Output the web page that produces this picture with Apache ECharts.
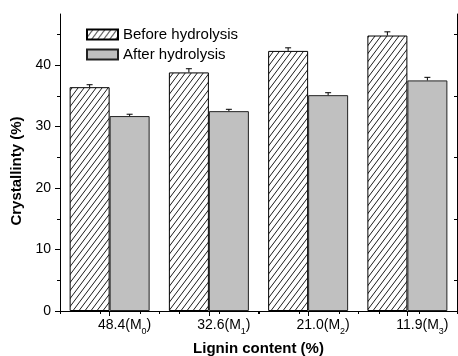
<!DOCTYPE html>
<html><head><meta charset="utf-8">
<script src="https://cdn.jsdelivr.net/npm/echarts@6/dist/echarts.min.js"></script>
<style>html,body{margin:0;padding:0;background:#fff}#c{width:458px;height:356px}</style>
</head><body><div id="c"></div>
<script>
// Crystallinity of the samples before and after hydrolysis, by lignin content
const ligninContent = ['48.4', '32.6', '21.0', '11.9'];
const sampleIndex = ['0', '1', '2', '3'];
const beforeHydrolysis = [36.4, 38.8, 42.3, 44.8];
const beforeError = [0.4, 0.6, 0.5, 0.6];
const afterHydrolysis = [31.7, 32.5, 35.1, 37.5];
const afterError = [0.3, 0.3, 0.4, 0.5];
const yMajorTicks = [0, 10, 20, 30, 40];
const yMinorTicks = [5, 15, 25, 35, 45];

const FONT = 'Liberation Sans, Arial, sans-serif';

// diagonal hatch tile for the "before" bars
function hatchTile() {
  const w = 6, h = 8;
  const cv = document.createElement('canvas');
  cv.width = w; cv.height = h;
  const g = cv.getContext('2d');
  g.fillStyle = '#fff';
  g.fillRect(0, 0, w, h);
  g.strokeStyle = '#000';
  g.lineWidth = 0.9;
  g.beginPath();
  for (const dx of [-w, 0, w]) { g.moveTo(dx, h); g.lineTo(dx + w, 0); }
  g.stroke();
  return cv;
}

function errorSeries(values, errors, shift) {
  return {
    type: 'custom',
    xAxisIndex: 0,
    yAxisIndex: 0,
    z: 5,
    silent: true,
    data: values.map((v, i) => [i, v, errors[i]]),
    renderItem: (params, api) => {
      const base = api.coord([api.value(0), api.value(1)]);
      const top = api.coord([api.value(0), api.value(1) + api.value(2)]);
      const x = base[0] + shift;
      const style = { stroke: '#000', lineWidth: 1 };
      return {
        type: 'group',
        children: [
          { type: 'line', shape: { x1: x, y1: base[1], x2: x, y2: top[1] }, style },
          { type: 'line', shape: { x1: x - 3, y1: top[1], x2: x + 3, y2: top[1] }, style }
        ]
      };
    }
  };
}

const chart = echarts.init(document.getElementById('c'), null, { renderer: 'canvas' });
const axisLine = { show: true, lineStyle: { color: '#000', width: 1 } };

chart.setOption({
  animation: false,
  backgroundColor: '#fff',
  grid: { left: 60, right: 1, top: 14, bottom: 45, containLabel: false, outerBoundsMode: 'none' },
  legend: {
    left: 86, top: 27, orient: 'vertical', padding: 0,
    itemWidth: 31, itemHeight: 10, itemGap: 5,
    icon: 'rect',
    data: ['Before hydrolysis', 'After hydrolysis'],
    textStyle: { fontSize: 15, lineHeight: 15, fontFamily: FONT, color: '#000' }
  },
  xAxis: [
    {
      type: 'category', position: 'bottom', data: ligninContent,
      axisLine,
      axisTick: { show: true, alignWithLabel: true, inside: false, length: 5, lineStyle: { color: '#000' } },
      axisLabel: {
        margin: 4, color: '#000', fontSize: 14, fontFamily: FONT,
        padding: [0, 0, 0, 30],
        formatter: (v, i) => v + '(M{s|' + sampleIndex[i] + '})',
        rich: { s: { fontSize: 9, fontFamily: FONT, color: '#000', padding: [12, 0, 0, 0] } }
      },
      name: 'Lignin content (%)', nameLocation: 'middle', nameGap: 29,
      nameTextStyle: { fontSize: 15, fontWeight: 'bold', fontFamily: FONT, color: '#000' },
      splitLine: { show: false }
    },
    {
      type: 'category', position: 'bottom', data: ligninContent,
      axisLine: { show: false },
      axisTick: { show: true, inside: false, length: 3, lineStyle: { color: '#000' } },
      axisLabel: { show: false }, splitLine: { show: false }
    },
    {
      type: 'value', position: 'top', min: 0, max: 9.95, interval: 1,
      axisLine,
      axisTick: { show: true, inside: true, length: 3, lineStyle: { color: '#000' } },
      axisLabel: { show: false }, splitLine: { show: false }
    }
  ],
  yAxis: [
    {
      type: 'value', position: 'left', min: 0, max: 48.3,
      axisLine,
      axisTick: { show: true, inside: false, length: 5, customValues: yMajorTicks, lineStyle: { color: '#000' } },
      axisLabel: { margin: 9, color: '#000', fontSize: 14, fontFamily: FONT, customValues: yMajorTicks },
      name: 'Crystallinty (%)', nameLocation: 'middle', nameGap: 31,
      nameTextStyle: { fontSize: 15, fontWeight: 'bold', fontFamily: FONT, color: '#000', padding: [0, 17, 0, 0] },
      splitLine: { show: false }
    },
    {
      type: 'value', position: 'left', min: 0, max: 48.3,
      axisLine: { show: false },
      axisTick: { show: true, inside: false, length: 3, customValues: yMinorTicks, lineStyle: { color: '#000' } },
      axisLabel: { show: false }, splitLine: { show: false }
    },
    {
      type: 'value', position: 'right', min: 0, max: 48.3,
      axisLine,
      axisTick: { show: true, inside: true, length: 3, customValues: yMinorTicks, lineStyle: { color: '#000' } },
      axisLabel: { show: false }, splitLine: { show: false }
    }
  ],
  series: [
    {
      name: 'Before hydrolysis', type: 'bar', xAxisIndex: 0, yAxisIndex: 0,
      data: beforeHydrolysis, barWidth: 40, barGap: '0%',
      itemStyle: { color: { image: hatchTile(), repeat: 'repeat' }, borderColor: '#000', borderWidth: 1 }
    },
    {
      name: 'After hydrolysis', type: 'bar', xAxisIndex: 0, yAxisIndex: 0,
      data: afterHydrolysis, barWidth: 40, barGap: '0%',
      itemStyle: { color: '#c0c0c0', borderColor: '#222', borderWidth: 1 }
    },
    errorSeries(beforeHydrolysis, beforeError, -20),
    errorSeries(afterHydrolysis, afterError, 20)
  ]
});
</script>
</body></html>
